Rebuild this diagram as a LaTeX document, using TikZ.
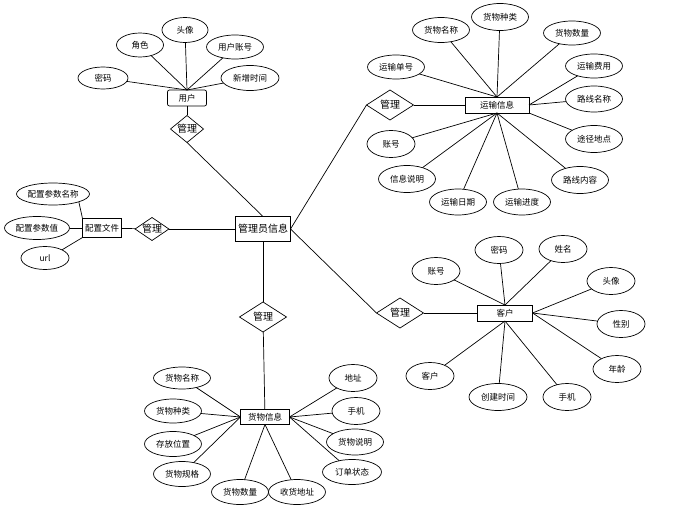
\documentclass[tikz,border=0pt]{standalone}
\usepackage{fontspec}
\setmainfont{Noto Sans CJK SC}
\usetikzlibrary{shapes.geometric}

\begin{document}
\begin{tikzpicture}[x=1pt,y=-1pt,inner sep=0pt,outer sep=0pt,line width=0.7pt,
font=\fontsize{8.5}{10}\selectfont,
attr/.style={draw,ellipse,minimum width=57pt,minimum height=24pt},
pair/.style={attr,minimum width=48pt,minimum height=27pt},
entity/.style={draw,rectangle,minimum height=16pt,line width=0.9pt},
rel/.style={draw,diamond,minimum width=47pt,minimum height=30pt,font=\fontsize{10}{12}\selectfont}]
\useasboundingbox (0,0) rectangle (688,511);
% user
\draw (187,98) node[entity,rounded corners=2pt,minimum width=39pt,line width=0.7pt] (user) {用户};
\draw (187,129) node[rel,minimum width=33pt,minimum height=27pt,aspect=1.3] (urel) {管理};
\draw (103,78) node[attr,minimum width=50pt,minimum height=22pt] (upwd) {密码};
\draw (140,45) node[attr,minimum width=47pt] (urole) {角色};
\draw (185,30) node[attr,minimum width=46pt,minimum height=25pt] (uface) {头像};
\draw (235,47) node[attr] (uacc) {用户账号};
\draw (250,78) node[attr,minimum width=58pt,minimum height=25pt] (utime) {新增时间};
% admin
\draw (263,229) node[entity,minimum width=55pt,minimum height=25pt,line width=1.1pt,font=\fontsize{10}{12}\selectfont] (admin) {管理员信息};
% config
\draw (102,228) node[entity,minimum width=39pt,minimum height=19pt] (cfg) {配置文件};
\draw (152,229) node[rel,minimum width=33pt,minimum height=23pt,aspect=1.5] (crel) {管理};
\draw (53,194) node[attr,minimum width=73pt,minimum height=22pt] (cname) {配置参数名称};
\draw (37,228) node[attr,minimum width=65pt,minimum height=23pt] (cval) {配置参数值};
\draw (45,258) node[attr,minimum width=48pt,minimum height=23pt] (curl) {url};
% transport
\draw (497,105) node[entity,minimum width=64pt] (trans) {运输信息};
\draw (390,105) node[rel] (trel) {管理};
\draw (396,67) node[attr] (tno) {运输单号};
\draw (441,30) node[attr,minimum height=25pt] (tname) {货物名称};
\draw (500,17) node[attr,minimum height=27pt] (tkind) {货物种类};
\draw (572,33) node[attr] (tnum) {货物数量};
\draw (594,66) node[attr] (tfee) {运输费用};
\draw (594,99) node[attr,minimum height=26pt] (troute) {路线名称};
\draw (594,139) node[attr,minimum height=27pt] (tplace) {途径地点};
\draw (580,180) node[attr,minimum height=27pt] (tcont) {路线内容};
\draw (522,202) node[attr,minimum height=26pt] (tprog) {运输进度};
\draw (458,202) node[attr,minimum height=26pt] (tdate) {运输日期};
\draw (407,179) node[attr,minimum height=27pt] (tdesc) {信息说明};
\draw (391,144) node[pair] (tacc) {账号};
% customer
\draw (505,313) node[entity,minimum width=55pt] (cust) {客户};
\draw (400,313) node[rel] (krel) {管理};
\draw (436,271) node[pair] (kacc) {账号};
\draw (499,250) node[pair] (kpwd) {密码};
\draw (563,249) node[pair] (kname) {姓名};
\draw (611,281) node[pair] (kface) {头像};
\draw (621,324) node[pair] (ksex) {性别};
\draw (617,369) node[pair] (kage) {年龄};
\draw (567,397) node[pair] (kphone) {手机};
\draw (498,397) node[attr,minimum width=58pt,minimum height=27pt] (ktime) {创建时间};
\draw (430,376) node[pair] (kcust) {客户};
% goods
\draw (265,417) node[entity,minimum width=49pt,minimum height=15pt] (goods) {货物信息};
\draw (263,317) node[rel] (grel) {管理};
\draw (182,378) node[attr,minimum height=22pt] (gname) {货物名称};
\draw (173,411) node[attr] (gkind) {货物种类};
\draw (173,444) node[attr,minimum height=25pt] (gpos) {存放位置};
\draw (182,474) node[attr,minimum height=25pt] (gspec) {货物规格};
\draw (240,492) node[attr,minimum height=25pt] (gnum) {货物数量};
\draw (297,492) node[attr,minimum height=25pt] (gaddr) {收货地址};
\draw (352,472) node[attr,minimum width=59pt,minimum height=25pt] (gstate) {订单状态};
\draw (355,442) node[attr,minimum height=26pt] (gdesc) {货物说明};
\draw (356,411) node[pair] (gphone) {手机};
\draw (353,378) node[pair] (gloc) {地址};
% links
\foreach \a in {upwd,urole,uface,uacc,utime} \draw (\a) -- (user.north);
\draw (user) -- (urel);
\draw (urel.south) -- (admin.north);
\draw (cname.south east) -- (cfg.north west);
\draw (cval) -- (cfg.west);
\draw (curl.north east) -- (cfg.south west);
\draw (cfg) -- (crel);
\draw (crel) -- (admin);
\draw (admin.east) -- (trel.west);
\draw (trel) -- (trans);
\foreach \a in {tno,tname,tkind,tnum} \draw (\a) -- (trans.north);
\foreach \a in {tfee,troute} \draw (\a) -- (trans.east);
\draw (tplace) -- (trans.south east);
\foreach \a in {tcont,tprog,tdate,tdesc,tacc} \draw (\a) -- (trans.south);
\draw (admin.east) -- (krel.west);
\draw (krel) -- (cust);
\foreach \a in {kacc,kpwd,kname} \draw (\a) -- (cust.north);
\foreach \a in {kface,ksex,kage} \draw (\a) -- (cust.east);
\foreach \a in {kcust,ktime,kphone} \draw (\a) -- (cust.south);
\draw (admin) -- (grel);
\draw (grel) -- (goods);
\foreach \a in {gname,gkind,gpos,gspec} \draw (\a) -- (goods.west);
\foreach \a in {gnum,gaddr} \draw (\a) -- (goods.south);
\foreach \a in {gloc,gphone,gdesc,gstate} \draw (\a) -- (goods.east);
\end{tikzpicture}
\end{document}
